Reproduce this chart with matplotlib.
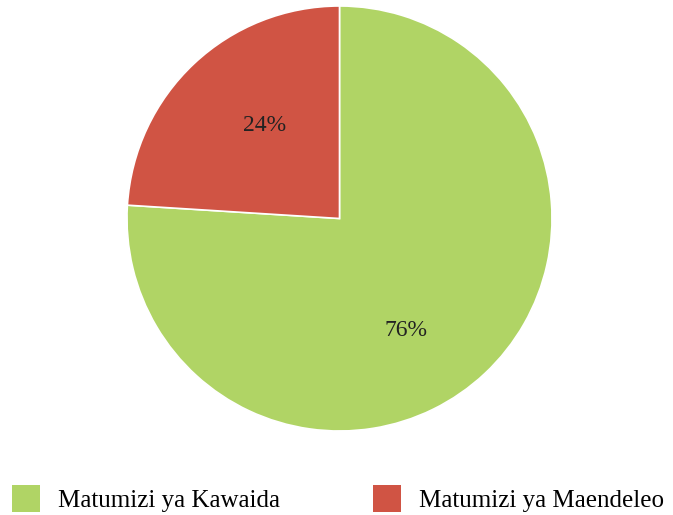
import matplotlib
matplotlib.use("Agg")
import matplotlib.pyplot as plt
from matplotlib.patches import Patch

labels = ["Matumizi ya Kawaida", "Matumizi ya Maendeleo"]
values = [76, 24]
colors = ["#b0d465", "#d05444"]

plt.rcParams['font.family'] = ['Liberation Serif', 'DejaVu Serif']

fig = plt.figure(figsize=(6.73, 5.15), dpi=100)
ax = fig.add_axes([127/673, (515-431)/515, 425/673, 425/515])
wedges, texts, autotexts = ax.pie(values, colors=colors, startangle=90, counterclock=False,
       autopct='%d%%', pctdistance=0.58, radius=1,
       wedgeprops=dict(edgecolor='white', linewidth=1.2),
       textprops=dict(fontsize=17, color='#222222'))
ax.set_aspect('equal')
ax.set_xlim(-1.0, 1.0)
ax.set_ylim(-1.0, 1.0)
# label placement as in the reference
autotexts[0].set_position((0.315, -0.527))
autotexts[1].set_position((-0.353, 0.438))

handles = [Patch(facecolor=c, edgecolor='none') for c in colors]
fig.legend(handles, labels, loc='lower left', bbox_to_anchor=(12/673, 3/515), ncol=2,
           frameon=False, fontsize=18, handlelength=1.12, handleheight=1.3,
           handletextpad=0.7, columnspacing=3.75, borderaxespad=0, borderpad=0)
fig.savefig("out.png", dpi=100)
